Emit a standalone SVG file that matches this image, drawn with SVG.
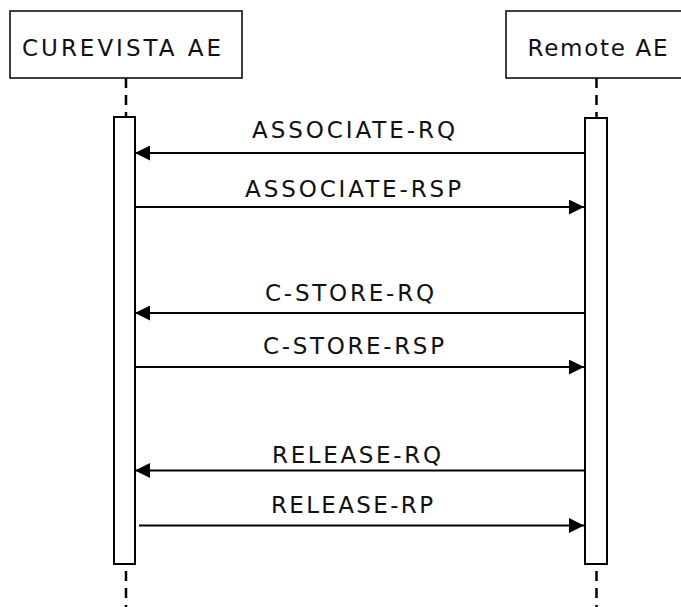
<svg xmlns="http://www.w3.org/2000/svg" width="681" height="607" viewBox="0 0 681 607">
<defs>
<style>
text{font-family:"DejaVu Sans","Liberation Sans",sans-serif;font-size:23px;fill:#111}
.box{fill:#fff;stroke:#000;stroke-width:1.5}
.bar{fill:#fff;stroke:#000;stroke-width:2}
.life{stroke:#000;stroke-width:2.5;stroke-dasharray:10,7;fill:none}
.msg{stroke:#000;stroke-width:2;fill:none}
</style>
<marker id="ah" viewBox="0 0 15 15" refX="15" refY="7.5" markerWidth="15" markerHeight="15" markerUnits="userSpaceOnUse" orient="auto">
<path d="M0,0 L15,7.5 L0,15 Z" fill="#000"/>
</marker>
</defs>
<rect width="681" height="607" fill="#fff"/>
<g id="lifelines">
<line class="life" x1="126" y1="78" x2="126" y2="607"/>
<line class="life" x1="596.5" y1="78" x2="596.5" y2="607"/>
</g>
<g id="curevista">
<rect class="box" x="10" y="11" width="232" height="67"/>
<text x="22" y="56" textLength="199" lengthAdjust="spacing">CUREVISTA AE</text>
<rect class="bar" x="114" y="117" width="21" height="447"/>
</g>
<g id="remote">
<rect class="box" x="506" y="11" width="200" height="67"/>
<text x="527.5" y="56" textLength="140" lengthAdjust="spacing">Remote AE</text>
<rect class="bar" x="585" y="118" width="22" height="446"/>
</g>
<g id="connectors">
<line class="msg" x1="584" y1="153" x2="135" y2="153" marker-end="url(#ah)"/>
<text x="252" y="138" textLength="203" lengthAdjust="spacing">ASSOCIATE-RQ</text>
<line class="msg" x1="135" y1="207" x2="584" y2="207" marker-end="url(#ah)"/>
<text x="245" y="197" textLength="216" lengthAdjust="spacing">ASSOCIATE-RSP</text>
<line class="msg" x1="584" y1="313" x2="135" y2="313" marker-end="url(#ah)"/>
<text x="265" y="301" textLength="169" lengthAdjust="spacing">C-STORE-RQ</text>
<line class="msg" x1="135" y1="367" x2="584" y2="367" marker-end="url(#ah)"/>
<text x="263" y="354" textLength="181" lengthAdjust="spacing">C-STORE-RSP</text>
<line class="msg" x1="584" y1="470.5" x2="135" y2="470.5" marker-end="url(#ah)"/>
<text x="272" y="463" textLength="169" lengthAdjust="spacing">RELEASE-RQ</text>
<line class="msg" x1="139" y1="525.5" x2="584" y2="525.5" marker-end="url(#ah)"/>
<text x="271" y="513" textLength="162" lengthAdjust="spacing">RELEASE-RP</text>
</g>
</svg>
